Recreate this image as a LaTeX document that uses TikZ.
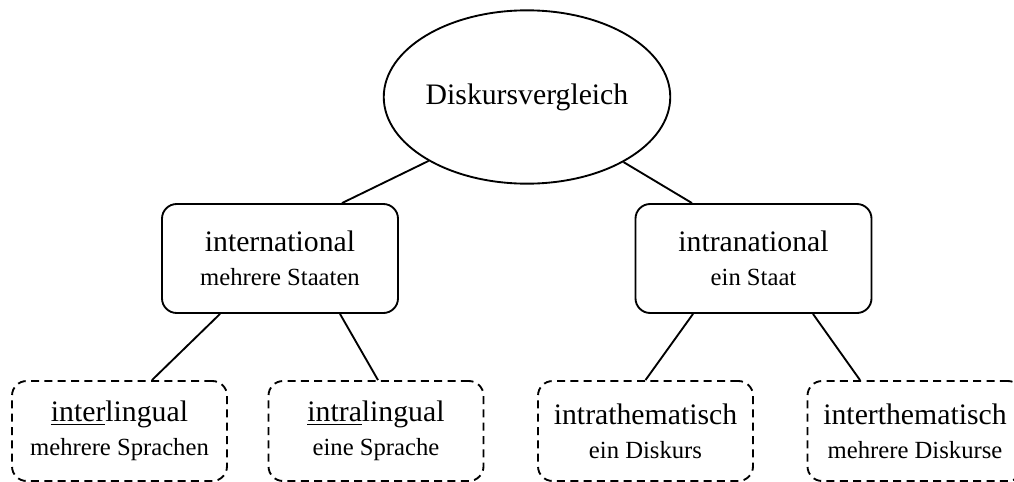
\documentclass[tikz,border=0pt]{standalone}
\usepackage{fontspec}
\setmainfont{Liberation Serif}
\usetikzlibrary{shapes.geometric,calc}
\newcommand{\subline}[1]{{\fontsize{18.5}{25.5}\selectfont #1}}
\begin{document}
\begin{tikzpicture}[x=0.75pt,y=-0.75pt,line width=1.4pt,
  every node/.style={font=\fontsize{22.3}{25.5}\selectfont, align=center, inner sep=0pt, text=black},
  rootnode/.style={ellipse, draw, line width=1.4pt, minimum width=195pt, minimum height=130pt},
  midbox/.style={draw, line width=1.4pt, rounded corners=11pt, minimum width=177pt, minimum height=81.75pt},
  leafbox/.style={draw, line width=1.4pt, dash pattern=on 6pt off 4pt, rounded corners=11pt, minimum width=161.25pt, minimum height=75pt},
  edge/.style={draw, line width=1.4pt}]
\useasboundingbox (0,0) rectangle (1014,482);
\clip (0,0) rectangle (1014,482);
\node[rootnode] (root) at (527,97) {Diskursvergleich};
\node[midbox] (intl) at (280,258.5) {international\\\subline{mehrere Staaten}};
\node[midbox] (intr) at (753.5,258.5) {intranational\\\subline{ein Staat}};
\node[leafbox] (b1) at (119.5,431) {\underline{inter}lingual\\\subline{mehrere Sprachen}};
\node[leafbox] (b2) at (376,431) {\underline{intra}lingual\\\subline{eine Sprache}};
\node[leafbox] (b3) at (645.5,431) {intrathematisch\\\subline{ein Diskurs}};
\node[leafbox] (b4) at (915,431) {interthematisch\\\subline{mehrere Diskurse}};
\path[edge] (root.213.7) -- ($(intl.north)+(62,0)$);
\path[edge] (root.326.3) -- ($(intr.north)+(-61.5,0)$);
\path[edge] ($(intl.south)+(-60,0)$) -- ($(b1.north)+(32.5,0)$);
\path[edge] ($(intl.south)+(60,0)$) -- ($(b2.north)+(2,0)$);
\path[edge] ($(intr.south)+(-60.5,0)$) -- ($(b3.north)+(0,0)$);
\path[edge] ($(intr.south)+(59.5,0)$) -- ($(b4.north)+(-55,0)$);
\end{tikzpicture}
\end{document}
